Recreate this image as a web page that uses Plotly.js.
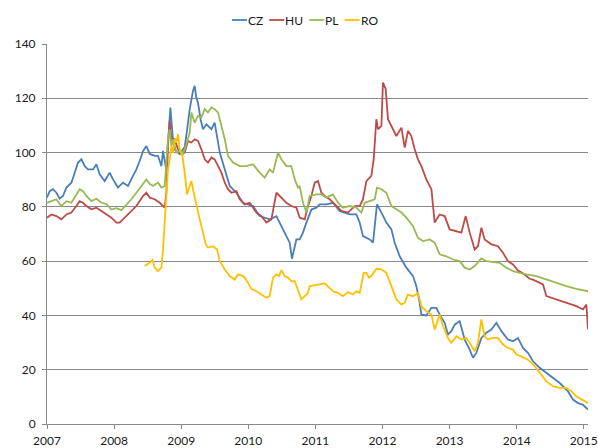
<!DOCTYPE html>
<html>
<head>
<meta charset="utf-8">
<script src="https://cdn.plot.ly/plotly-3.0.1.min.js"></script>
<style>
  html, body { margin: 0; padding: 0; background: #fff; }
  #plot { width: 598px; height: 448px; }
</style>
</head>
<body>
<div id="plot"></div>
<script>
// series names and colours (legend order)
var seriesNames = ["CZ", "HU", "PL", "RO"];
var seriesColors = ["#4A7EBB", "#BE4B48", "#98B954", "#FFC000"];
var yearTicks = [2007, 2008, 2009, 2010, 2011, 2012, 2013, 2014, 2015];

// CZ - dates as decimal years
var czX = [2007.000, 2007.040, 2007.089, 2007.140, 2007.189, 2007.238, 2007.289, 2007.364, 2007.413, 2007.462,
  2007.513, 2007.562, 2007.611, 2007.686, 2007.736, 2007.785, 2007.860, 2007.934, 2007.984, 2008.058,
  2008.133, 2008.207, 2008.282, 2008.332, 2008.382, 2008.431, 2008.481, 2008.531, 2008.605, 2008.654,
  2008.705, 2008.729, 2008.776, 2008.839, 2008.873, 2008.903, 2008.978, 2009.052, 2009.086, 2009.127,
  2009.176, 2009.201, 2009.224, 2009.250, 2009.291, 2009.325, 2009.376, 2009.450, 2009.499, 2009.575,
  2009.650, 2009.723, 2009.823, 2009.921, 2010.070, 2010.170, 2010.319, 2010.419, 2010.517, 2010.617,
  2010.651, 2010.692, 2010.717, 2010.766, 2010.815, 2010.866, 2010.940, 2011.015, 2011.064, 2011.164,
  2011.262, 2011.362, 2011.511, 2011.611, 2011.660, 2011.709, 2011.809, 2011.859, 2011.918, 2011.984,
  2012.058, 2012.133, 2012.182, 2012.256, 2012.282, 2012.356, 2012.455, 2012.505, 2012.554, 2012.580,
  2012.654, 2012.729, 2012.803, 2012.852, 2012.927, 2012.976, 2013.026, 2013.076, 2013.150, 2013.225,
  2013.300, 2013.349, 2013.399, 2013.474, 2013.548, 2013.623, 2013.698, 2013.772, 2013.870, 2013.945,
  2014.019, 2014.094, 2014.168, 2014.243, 2014.343, 2014.443, 2014.541, 2014.641, 2014.765, 2014.839,
  2014.913, 2014.988, 2015.063];
var czY = [83.4, 85.8, 86.5, 85.2, 83.0, 84.0, 87.1, 88.9, 92.6, 96.3,
  97.5, 95.0, 93.8, 93.8, 95.7, 92.0, 89.5, 92.6, 90.1, 87.1,
  88.9, 87.7, 91.4, 93.8, 97.0, 100.5, 102.4, 99.5, 98.8, 98.8,
  95.0, 100.6, 93.8, 116.6, 106.0, 101.0, 99.4, 102.0, 108.0, 116.0,
  122.7, 124.6, 120.5, 118.4, 112.0, 108.6, 110.4, 108.6, 111.0, 100.0,
  93.8, 87.7, 85.2, 81.5, 80.3, 76.6, 75.4, 76.6, 71.7, 66.8,
  60.9, 65.0, 68.0, 68.0, 70.5, 74.2, 79.0, 79.7, 80.9, 80.9,
  81.5, 78.5, 77.2, 77.2, 74.2, 69.2, 68.0, 66.8, 80.9, 77.9,
  74.2, 71.7, 66.8, 61.8, 60.6, 57.6, 54.5, 50.8, 44.7, 40.3,
  40.0, 42.8, 42.8, 40.3, 37.3, 33.0, 34.2, 36.6, 37.9, 31.1,
  27.4, 24.4, 26.2, 31.7, 33.6, 34.8, 37.3, 34.2, 31.1, 30.5,
  31.7, 28.0, 26.2, 23.1, 20.7, 18.8, 17.0, 15.1, 12.0, 9.0,
  7.7, 7.1, 5.3];

// HU
var huX = [2007.000, 2007.066, 2007.140, 2007.215, 2007.289, 2007.364, 2007.438, 2007.487, 2007.537, 2007.587,
  2007.662, 2007.736, 2007.811, 2007.885, 2007.960, 2008.034, 2008.083, 2008.158, 2008.232, 2008.332,
  2008.431, 2008.481, 2008.531, 2008.605, 2008.680, 2008.754, 2008.779, 2008.803, 2008.829, 2008.854,
  2008.903, 2008.952, 2009.003, 2009.052, 2009.101, 2009.152, 2009.201, 2009.250, 2009.301, 2009.350,
  2009.399, 2009.450, 2009.499, 2009.548, 2009.599, 2009.650, 2009.697, 2009.748, 2009.823, 2009.872,
  2009.946, 2010.021, 2010.121, 2010.195, 2010.270, 2010.344, 2010.419, 2010.468, 2010.568, 2010.642,
  2010.717, 2010.766, 2010.841, 2010.890, 2010.940, 2010.990, 2011.039, 2011.089, 2011.139, 2011.213,
  2011.313, 2011.387, 2011.486, 2011.586, 2011.660, 2011.709, 2011.760, 2011.834, 2011.869, 2011.909,
  2011.933, 2011.984, 2012.007, 2012.048, 2012.082, 2012.133, 2012.207, 2012.282, 2012.331, 2012.380,
  2012.430, 2012.480, 2012.529, 2012.580, 2012.654, 2012.729, 2012.778, 2012.852, 2012.927, 2013.001,
  2013.101, 2013.176, 2013.240, 2013.300, 2013.374, 2013.423, 2013.474, 2013.523, 2013.623, 2013.721,
  2013.796, 2013.870, 2013.945, 2014.019, 2014.094, 2014.194, 2014.243, 2014.392, 2014.443, 2014.592,
  2014.741, 2014.890, 2014.988, 2015.039, 2015.063];
var huY = [76.0, 77.2, 76.6, 75.4, 77.2, 77.9, 80.3, 82.1, 81.5, 80.3,
  79.1, 79.7, 78.5, 77.2, 76.0, 74.2, 74.2, 76.0, 77.9, 80.3,
  84.0, 85.2, 83.4, 82.8, 81.5, 79.7, 85.2, 102.4, 111.7, 104.9,
  104.9, 101.2, 99.4, 100.0, 104.3, 103.7, 104.9, 104.3, 101.2, 97.5,
  96.3, 98.2, 97.5, 95.0, 92.6, 88.9, 86.5, 85.2, 85.8, 82.8,
  80.9, 81.5, 77.9, 76.6, 74.2, 75.4, 85.2, 84.0, 81.5, 80.3,
  79.7, 76.0, 75.4, 80.3, 84.0, 88.9, 89.5, 85.2, 84.0, 82.8,
  80.3, 78.5, 77.9, 80.3, 80.3, 82.8, 89.5, 91.4, 97.5, 112.3,
  108.6, 109.8, 125.8, 123.4, 112.3, 109.8, 106.1, 109.2, 101.8, 108.0,
  106.1, 101.2, 97.5, 95.0, 90.1, 86.5, 74.2, 77.2, 76.6, 71.7,
  71.1, 70.5, 76.6, 70.5, 64.3, 65.5, 72.3, 68.0, 66.2, 65.5,
  63.1, 60.0, 58.8, 56.5, 55.5, 53.5, 53.2, 51.4, 47.1, 45.9,
  44.7, 43.4, 42.2, 44.0, 34.8];

// PL
var plX = [2007.000, 2007.066, 2007.140, 2007.215, 2007.289, 2007.364, 2007.438, 2007.487, 2007.537, 2007.587,
  2007.662, 2007.736, 2007.811, 2007.885, 2007.960, 2008.034, 2008.109, 2008.183, 2008.258, 2008.332,
  2008.382, 2008.481, 2008.531, 2008.580, 2008.654, 2008.705, 2008.754, 2008.803, 2008.829, 2008.854,
  2008.878, 2008.928, 2008.978, 2009.027, 2009.077, 2009.127, 2009.152, 2009.201, 2009.250, 2009.301,
  2009.350, 2009.399, 2009.450, 2009.499, 2009.548, 2009.599, 2009.650, 2009.697, 2009.772, 2009.872,
  2009.972, 2010.070, 2010.170, 2010.244, 2010.319, 2010.368, 2010.443, 2010.493, 2010.568, 2010.642,
  2010.692, 2010.741, 2010.766, 2010.815, 2010.866, 2010.915, 2011.015, 2011.089, 2011.164, 2011.262,
  2011.337, 2011.411, 2011.511, 2011.611, 2011.685, 2011.735, 2011.809, 2011.884, 2011.918, 2011.984,
  2012.058, 2012.133, 2012.207, 2012.282, 2012.356, 2012.455, 2012.529, 2012.604, 2012.704, 2012.778,
  2012.852, 2012.952, 2013.051, 2013.150, 2013.225, 2013.300, 2013.374, 2013.474, 2013.548, 2013.647,
  2013.747, 2013.846, 2013.945, 2014.045, 2014.144, 2014.294, 2014.443, 2014.592, 2014.741, 2014.890,
  2015.063];
var plY = [81.5, 82.1, 82.8, 80.3, 82.1, 81.5, 84.6, 86.5, 85.8, 84.0,
  82.1, 83.0, 81.5, 81.0, 79.0, 79.5, 78.8, 80.8, 82.8, 85.2,
  87.0, 90.1, 88.5, 87.7, 89.0, 87.1, 87.7, 104.9, 108.6, 102.4,
  104.9, 100.0, 100.6, 99.4, 103.1, 107.4, 114.8, 111.0, 113.5, 112.9,
  116.0, 114.8, 116.6, 116.0, 114.8, 109.8, 104.9, 98.8, 96.3, 95.0,
  95.0, 95.7, 92.6, 90.8, 93.8, 92.6, 100.0, 97.5, 95.0, 95.0,
  90.1, 87.1, 87.7, 81.5, 77.9, 84.0, 84.6, 84.6, 83.4, 84.6,
  81.5, 79.7, 80.3, 79.7, 77.9, 81.5, 82.1, 82.8, 87.1, 86.5,
  85.2, 80.3, 79.1, 77.9, 76.0, 72.9, 68.6, 67.4, 68.0, 66.8,
  62.5, 61.8, 60.6, 60.0, 57.6, 56.9, 58.2, 61.0, 60.0, 59.7,
  59.4, 57.6, 56.3, 55.7, 55.1, 54.5, 53.2, 52.0, 50.8, 49.8,
  48.9];

// RO (series starts mid 2008)
var roX = [2008.456, 2008.531, 2008.571, 2008.605, 2008.654, 2008.705, 2008.729, 2008.754, 2008.779, 2008.803,
  2008.829, 2008.854, 2008.878, 2008.903, 2008.928, 2008.952, 2008.978, 2009.018, 2009.052, 2009.086,
  2009.127, 2009.152, 2009.176, 2009.227, 2009.276, 2009.325, 2009.365, 2009.399, 2009.474, 2009.534,
  2009.575, 2009.650, 2009.723, 2009.797, 2009.846, 2009.921, 2009.946, 2009.996, 2010.046, 2010.121,
  2010.195, 2010.270, 2010.319, 2010.368, 2010.419, 2010.458, 2010.493, 2010.542, 2010.592, 2010.642,
  2010.692, 2010.741, 2010.791, 2010.841, 2010.890, 2010.915, 2010.990, 2011.064, 2011.139, 2011.213,
  2011.262, 2011.337, 2011.411, 2011.486, 2011.560, 2011.611, 2011.660, 2011.720, 2011.760, 2011.799,
  2011.834, 2011.909, 2011.984, 2012.058, 2012.133, 2012.207, 2012.282, 2012.331, 2012.380, 2012.455,
  2012.529, 2012.580, 2012.654, 2012.729, 2012.778, 2012.852, 2012.902, 2012.976, 2013.026, 2013.101,
  2013.176, 2013.250, 2013.300, 2013.374, 2013.423, 2013.474, 2013.523, 2013.572, 2013.647, 2013.721,
  2013.796, 2013.870, 2013.945, 2013.995, 2014.070, 2014.168, 2014.268, 2014.343, 2014.443, 2014.541,
  2014.641, 2014.741, 2014.815, 2014.890, 2014.964, 2015.063];
var roY = [58.2, 59.4, 60.4, 57.6, 56.3, 57.6, 64.3, 75.4, 85.2, 93.8,
  97.5, 102.4, 100.0, 104.9, 103.7, 106.8, 101.2, 98.8, 92.6, 84.6,
  87.7, 89.5, 86.5, 80.3, 75.4, 70.5, 66.2, 65.0, 65.5, 64.3,
  60.0, 56.9, 54.5, 53.2, 55.1, 54.5, 53.9, 52.0, 49.8, 48.9,
  47.7, 46.5, 47.1, 53.9, 55.1, 54.5, 56.7, 54.5, 53.9, 52.6,
  52.6, 49.6, 45.9, 47.1, 48.3, 50.8, 51.0, 51.4, 51.8, 50.2,
  48.9, 48.3, 47.1, 48.6, 47.7, 48.9, 48.3, 55.7, 55.7, 53.9,
  54.5, 57.2, 57.0, 55.7, 50.8, 45.9, 44.0, 44.7, 47.7, 47.1,
  48.3, 43.4, 41.5, 40.3, 34.8, 40.3, 36.0, 31.7, 29.9, 32.3,
  31.1, 31.7, 29.9, 26.8, 29.9, 38.5, 32.3, 31.1, 31.7, 31.7,
  29.3, 28.0, 27.4, 25.6, 24.9, 23.7, 21.3, 18.8, 15.7, 13.9,
  13.3, 13.3, 12.0, 10.2, 9.0, 7.7];

var xs = [czX, huX, plX, roX];
var ys = [czY, huY, plY, roY];

var traces = seriesNames.map(function(name, i) {
  return {
    x: xs[i],
    y: ys[i],
    type: "scatter",
    mode: "lines",
    name: name,
    line: { color: seriesColors[i], width: 1.8 }
  };
});

var axisGrey = "#898989";
var fontFamily = "Lato, 'Liberation Sans', sans-serif";
var margin = { l: 47, r: 10, t: 44, b: 24, autoexpand: false };
var plotW = 598 - margin.l - margin.r;
var plotH = 448 - margin.t - margin.b;

// compact Excel-style legend: short line sample followed by the name
var ctx = document.createElement("canvas").getContext("2d");
ctx.font = "12px Lato";
var legendShapes = [];
var legendNotes = [];
var legendY = 1 + (margin.t - 20) / plotH;
var cursor = 232;
seriesNames.forEach(function(name, i) {
  var x0 = (cursor - margin.l) / plotW;
  var x1 = (cursor + 15 - margin.l) / plotW;
  legendShapes.push({
    type: "line", xref: "paper", yref: "paper",
    x0: x0, x1: x1, y0: legendY, y1: legendY,
    line: { color: seriesColors[i], width: 1.8 }
  });
  legendNotes.push({
    xref: "paper", yref: "paper", x: x1, y: legendY,
    xanchor: "left", yanchor: "middle", showarrow: false,
    text: name, font: { size: 12, family: fontFamily, color: "#1a1a1a" },
    borderpad: 0
  });
  cursor += 15 + 1 + ctx.measureText(name).width + 6;
});

var layout = {
  width: 598,
  height: 448,
  margin: margin,
  paper_bgcolor: "#ffffff",
  plot_bgcolor: "#ffffff",
  font: { family: fontFamily, size: 12, color: "#1a1a1a" },
  showlegend: false,
  shapes: legendShapes,
  annotations: legendNotes,
  xaxis: {
    range: [2007, 2015.063],
    tickmode: "array",
    tickvals: yearTicks,
    ticktext: yearTicks.map(String),
    ticks: "outside",
    ticklen: 4,
    tickcolor: axisGrey,
    ticklabelstandoff: 2,
    showline: true,
    linecolor: axisGrey,
    linewidth: 1,
    showgrid: false,
    zeroline: false
  },
  yaxis: {
    range: [0, 140],
    dtick: 20,
    ticks: "outside",
    ticklen: 4,
    tickcolor: axisGrey,
    ticklabelstandoff: 4,
    showline: true,
    linecolor: axisGrey,
    linewidth: 1,
    showgrid: true,
    gridcolor: axisGrey,
    gridwidth: 1,
    zeroline: false
  }
};

Plotly.newPlot("plot", traces, layout, { displayModeBar: false, staticPlot: true });
</script>
</body>
</html>
